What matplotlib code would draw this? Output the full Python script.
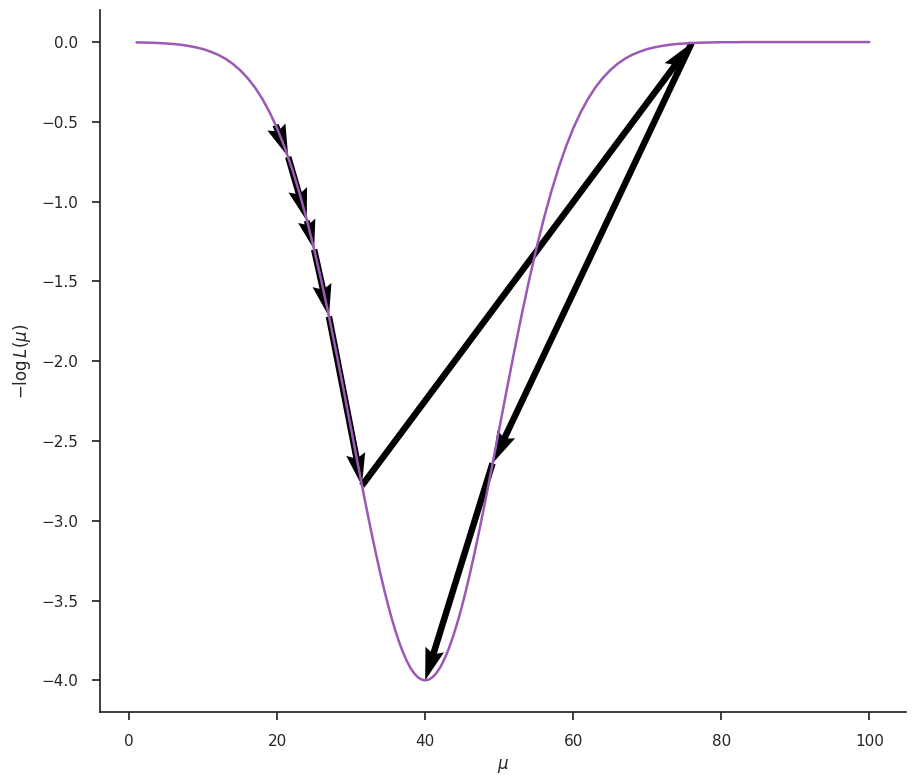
import numpy as np
import matplotlib
matplotlib.use("Agg")
import matplotlib.pyplot as plt
import seaborn as sns

# negative log-likelihood curve
# (finer spacing around the minimum)
mu = np.concatenate([np.arange(1, 30), np.arange(30, 50.5, 0.5), np.arange(51, 101)])
neg_log_lik = [
    # mu = 1 .. 29
    -0.002, -0.003, -0.004, -0.006, -0.009, -0.012, -0.017, -0.024, -0.033, -0.044,
    -0.060, -0.079, -0.104, -0.136, -0.176, -0.225, -0.284, -0.356, -0.441, -0.541,
    -0.658, -0.792, -0.943, -1.112, -1.299, -1.501, -1.718, -1.947, -2.184,
    # mu = 30 .. 50 step 0.5
    -2.426, -2.547, -2.668, -2.787, -2.905, -3.019, -3.131, -3.238, -3.341, -3.439,
    -3.530, -3.615, -3.692, -3.762, -3.824, -3.877, -3.921, -3.955, -3.980, -3.995,
    -4.000,
    -3.995, -3.980, -3.955, -3.921, -3.877, -3.824, -3.762, -3.692, -3.615, -3.530,
    -3.439, -3.341, -3.238, -3.131, -3.019, -2.905, -2.787, -2.668, -2.547, -2.426,
    # mu = 51 .. 100
    -2.184, -1.947, -1.718, -1.501, -1.299, -1.112, -0.943, -0.792, -0.658, -0.541,
    -0.441, -0.356, -0.284, -0.225, -0.176, -0.136, -0.104, -0.079, -0.060, -0.044,
    -0.033, -0.024, -0.017, -0.012, -0.009, -0.006, -0.004, -0.003, -0.002, -0.001,
    -0.001, -0.001, 0.0, 0.0, 0.0, 0.0, 0.0, 0.0, 0.0, 0.0,
    0.0, 0.0, 0.0, 0.0, 0.0, 0.0, 0.0, 0.0, 0.0, 0.0,
]

# optimisation steps (mu, value)
step_mu = [19.8, 21.5, 24.0, 25.0, 27.0, 31.45, 76.0, 49.1, 40.0]
step_val = [-0.52, -0.72, -1.12, -1.30, -1.72, -2.78, -0.006, -2.64, -4.0]

sns.set_theme(style="ticks", context="notebook")
plt.rcParams.update({
    "xtick.major.pad": 10,
    "ytick.major.pad": 10,
    "axes.labelpad": 6,
    "xtick.major.size": 5.5,
    "ytick.major.size": 5.5,
})

fig, ax = plt.subplots(figsize=(9.16, 7.81), dpi=100)
fig.subplots_adjust(left=0.109, right=0.989, top=0.987, bottom=0.088)

sx = np.array(step_mu)
sy = np.array(step_val)
ax.quiver(sx[:-1], sy[:-1], np.diff(sx), np.diff(sy),
          angles="xy", scale_units="xy", scale=1, width=0.008, color="black")

ax.plot(mu, neg_log_lik, color="#9b59b6", lw=1.8)

ax.set_xlabel(r"$\mu$")
ax.set_ylabel(r"$-\log L(\mu)$")
ax.set_xlim(-3.95, 104.95)
ax.set_ylim(-4.2, 0.2)
sns.despine(ax=ax)

fig.savefig("out.png", dpi=100)
